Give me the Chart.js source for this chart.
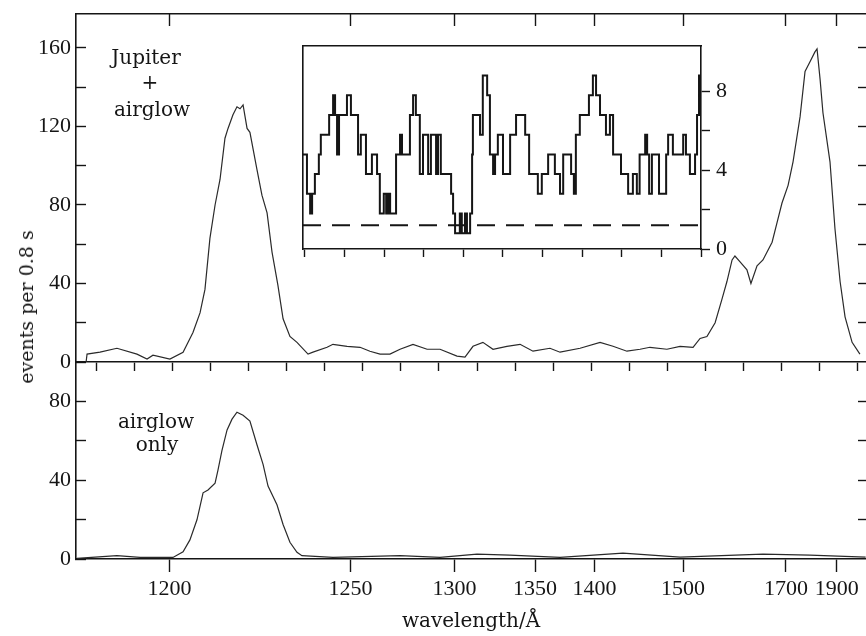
<!DOCTYPE html>
<html>
<head>
<meta charset="utf-8">
<script src="https://cdn.jsdelivr.net/npm/chart.js@4.4.1/dist/chart.umd.min.js"></script>
<style>
  html, body { margin: 0; padding: 0; background: #fff; }
  #wrap { position: relative; width: 866px; height: 636px; overflow: hidden; background: #fff; }
  canvas { position: absolute; }
  .note { position: absolute; font-family: 'DejaVu Serif', serif; font-size: 20px; color: #151515; transform: translate(-50%, -50%); white-space: nowrap; }
  #ytitle { position: absolute; left: 26px; top: 307px; transform: translate(-50%, -50%) rotate(-90deg); font-family: 'DejaVu Serif', serif; font-size: 19px; color: #151515; white-space: nowrap; }
</style>
</head>
<body>
<div id="wrap">
  <canvas id="top-panel" width="866" height="376" style="left:0;top:0"></canvas>
  <canvas id="bottom-panel" width="866" height="274" style="left:0;top:362px"></canvas>
  <canvas id="inset" width="460" height="232" style="left:293px;top:36px"></canvas>
  <div class="note" style="left:146px;top:57px">Jupiter</div>
  <div class="note" style="left:150px;top:82px">+</div>
  <div class="note" style="left:152px;top:109px">airglow</div>
  <div class="note" style="left:156px;top:421px">airglow</div>
  <div class="note" style="left:157px;top:444px">only</div>
  <div id="ytitle">events per 0.8 s</div>
</div>
<script>
// detector channel axis; wavelength labels sit at fixed channels (non-linear dispersion)
const X_MIN = -10.5;
const X_MAX = 404.2;
const CHANNEL_TICKS = [0, 20, 40, 60, 80, 100, 120, 140, 160, 180, 200, 220, 240, 260, 280, 300, 320, 340, 360, 380, 400];
const WAVE_LABELS = ['1200', '1250', '1300', '1350', '1400', '1500', '1700', '1900'];
const WAVE_CHANNELS = [38.6, 133.6, 188.2, 230.5, 261.7, 308.2, 362.2, 388.8];

// Jupiter + airglow
const TOP_CHANNEL = [-5.2, -4.7, 2.1, 11.0, 21.5, 26.8, 29.9, 38.8, 45.7, 50.9, 54.6, 57.2, 59.8, 62.5, 65.1, 67.7,
  69.3, 71.9, 74.0, 75.6, 77.2, 79.3, 80.8, 84.5, 87.1, 89.8, 92.4, 95.5, 98.2, 101.8, 105.5, 111.3, 113.9, 121.3,
  124.4, 131.8, 138.6, 143.8, 149.1, 154.3, 159.6, 166.4, 173.8, 180.6, 189.5, 193.7, 197.9, 203.1, 208.4, 215.7,
  222.6, 229.4, 238.3, 243.6, 254.1, 264.6, 271.4, 278.7, 285.6, 290.8, 299.7, 306.6, 313.4, 317.1, 320.7, 325.0,
  328.6, 331.2, 333.9, 335.4, 338.1, 341.7, 343.8, 347.0, 350.1, 354.9, 357.5, 360.1, 363.3, 365.9, 369.6, 372.2,
  374.8, 377.4, 378.5, 380.1, 381.6, 385.3, 387.9, 390.6, 393.2, 396.9, 401];
const TOP_COUNTS = [0, 4, 5, 7, 4, 1.5, 3.5, 1.5, 5, 15, 25, 37, 63, 80, 93, 114,
  119, 126, 130, 129, 131, 119, 117, 98, 85, 76, 56, 39, 22, 13, 10, 4, 5, 7.5,
  9, 8, 7.5, 5.5, 4, 4, 6.5, 9, 6.5, 6.5, 3, 2.5, 8, 10, 6.5, 8,
  9, 5.5, 7, 5, 7, 10, 8, 5.5, 6.5, 7.5, 6.5, 8, 7.5, 12, 13, 20,
  32, 41, 52, 54, 51, 47, 40, 49, 52, 61, 71, 81, 90, 102, 125, 148,
  153, 158, 159.5, 144, 127, 102, 68, 41, 23, 10, 4];

// airglow only
const BOT_CHANNEL = [-10, 11, 23.1, 40.4, 45.7, 49.3, 53.0, 56.2, 58.8, 62.5, 64.0, 66.1, 68.8, 71.4, 74.0, 77.2,
  80.8, 84.5, 87.7, 90.3, 95.0, 98.2, 101.8, 105.5, 108.1, 124.4, 159.6, 180.6, 200, 217.3, 243.6, 276.6, 306.6,
  350.1, 374.8, 404];
const BOT_COUNTS = [0.3, 1.7, 0.8, 0.8, 3.7, 9.7, 19.9, 33.6, 35, 38.5, 45, 55, 65.5, 71, 74.5, 73,
  70, 58, 48, 37, 27.5, 17.5, 8.5, 3.4, 1.7, 0.8, 1.7, 0.8, 2.5, 2, 0.8, 3, 1,
  2.5, 2, 1];

const TOP_Y_TICKS = [0, 20, 40, 60, 80, 100, 120, 140, 160];
const BOT_Y_TICKS = [0, 20, 40, 60, 80];

// inset: step counts, each value holds until the next x
const INSET_X = [-0.05, 0.05, 0.13, 0.18, 0.25, 0.35, 0.40, 0.61, 0.71, 0.76,
  0.81, 0.86, 1.06, 1.16, 1.34, 1.41, 1.54, 1.69, 1.82, 1.89,
  1.99, 2.05, 2.10, 2.15, 2.30, 2.40, 2.45, 2.65, 2.73, 2.80,
  2.90, 2.98, 3.11, 3.18, 3.31, 3.36, 3.43, 3.69, 3.74, 3.79,
  3.91, 3.96, 4.04, 4.09, 4.17, 4.22, 4.24, 4.42, 4.49, 4.60,
  4.67, 4.75, 4.80, 4.87, 5.00, 5.18, 5.33, 5.56, 5.66, 5.88,
  5.98, 6.14, 6.31, 6.44, 6.52, 6.72, 6.79, 6.84, 6.94, 7.17,
  7.27, 7.35, 7.45, 7.60, 7.70, 7.78, 7.98, 8.16, 8.28, 8.38,
  8.45, 8.59, 8.64, 8.69, 8.76, 8.94, 9.12, 9.17, 9.29, 9.55,
  9.62, 9.72, 9.85, 9.90, 9.95, 10.0];
const INSET_COUNTS = [4.8, 2.8, 1.8, 2.8, 3.8, 4.8, 5.8, 6.8, 7.8, 6.8,
  4.8, 6.8, 7.8, 6.8, 4.8, 5.8, 3.8, 4.8, 3.8, 1.8,
  2.8, 1.8, 2.8, 1.8, 4.8, 5.8, 4.8, 6.8, 7.8, 6.8,
  3.8, 5.8, 3.8, 5.8, 3.8, 5.8, 3.8, 2.8, 1.8, 0.8,
  1.8, 0.8, 1.8, 0.8, 1.8, 4.8, 6.8, 5.8, 8.8, 7.8,
  4.8, 3.8, 4.8, 5.8, 3.8, 5.8, 6.8, 5.8, 3.8, 2.8,
  3.8, 4.8, 3.8, 2.8, 4.8, 3.8, 2.8, 5.8, 6.8, 7.8,
  8.8, 7.8, 6.8, 5.8, 6.8, 4.8, 3.8, 2.8, 3.8, 2.8,
  4.8, 5.8, 4.8, 2.8, 4.8, 2.8, 4.8, 5.8, 4.8, 5.8,
  4.8, 3.8, 4.8, 6.8, 8.8, 8.8];
const INSET_LEVEL = 1.2;
const INSET_X_TICKS = [0, 1, 2, 3, 4, 5, 6, 7, 8, 9, 10];
const INSET_Y_TICKS = [0, 2, 4, 6, 8];

const INK = '#151515';
const TRACE = '#2a2a2a';

Chart.defaults.font.family = "'Liberation Serif', serif";
Chart.defaults.font.size = 22;
Chart.defaults.color = INK;

const baseOptions = {
  responsive: false,
  animation: false,
  events: [],
  layout: { padding: 0 },
  plugins: { legend: { display: false }, tooltip: { enabled: false } },
};

const useTicks = (values) => (scale) => { scale.ticks = values.map((v) => ({ value: v })); };
// pin an axis box to a fixed size and drop the label overhang padding
const boxSize = (prop, size) => (s) => {
  s[prop] = size;
  s.paddingTop = 0; s.paddingBottom = 0; s.paddingLeft = 0; s.paddingRight = 0;
};
const border = { display: true, color: INK, width: 1.6 };
const marks = (len) => ({ drawOnChartArea: false, tickLength: len, tickColor: INK, tickWidth: 1.4 });

function points(xs, ys) {
  return xs.map((x, i) => ({ x, y: ys[i] }));
}

new Chart(document.getElementById('top-panel'), {
  type: 'line',
  data: {
    datasets: [{
      data: points(TOP_CHANNEL, TOP_COUNTS),
      borderColor: TRACE,
      borderWidth: 1.2,
      pointRadius: 0,
    }]
  },
  options: {
    ...baseOptions,
    scales: {
      x: {
        type: 'linear', position: 'bottom', min: X_MIN, max: X_MAX,
        afterBuildTicks: useTicks(CHANNEL_TICKS),
        afterFit: boxSize('height', 14),
        ticks: { display: false },
        grid: marks(9),
        border,
      },
      xTop: {
        type: 'linear', position: 'top', min: X_MIN, max: X_MAX,
        afterBuildTicks: useTicks(WAVE_CHANNELS),
        afterFit: boxSize('height', 14),
        ticks: { display: false },
        grid: marks(-12),
        border,
      },
      y: {
        type: 'linear', position: 'left', min: 0, max: 177.3,
        afterBuildTicks: useTicks(TOP_Y_TICKS),
        afterFit: boxSize('width', 76),
        ticks: { padding: 15, callback: (v) => (v % 40 === 0 ? String(v) : '') },
        grid: marks(-10),
        border,
      },
      yRight: {
        type: 'linear', position: 'right', min: 0, max: 177.3,
        afterBuildTicks: useTicks(TOP_Y_TICKS.slice(1)),
        afterFit: boxSize('width', 0),
        ticks: { display: false },
        grid: marks(-8),
        border: { display: false },
      }
    }
  }
});

new Chart(document.getElementById('bottom-panel'), {
  type: 'line',
  data: {
    datasets: [{
      data: points(BOT_CHANNEL, BOT_COUNTS),
      borderColor: TRACE,
      borderWidth: 1.2,
      pointRadius: 0,
    }]
  },
  options: {
    ...baseOptions,
    scales: {
      x: {
        type: 'linear', position: 'bottom', min: X_MIN, max: X_MAX,
        afterBuildTicks: useTicks(WAVE_CHANNELS),
        afterFit: boxSize('height', 77),
        ticks: { padding: 4, autoSkip: false, maxRotation: 0, callback: (v, i) => WAVE_LABELS[i] },
        grid: marks(13),
        border,
        title: {
          display: true,
          text: 'wavelength/Å',
          font: { family: "'DejaVu Serif', serif", size: 20 },
          padding: { top: 0, bottom: 2 },
        },
      },
      y: {
        type: 'linear', position: 'left', min: 0, max: 100,
        afterBuildTicks: useTicks(BOT_Y_TICKS),
        afterFit: boxSize('width', 76),
        ticks: { padding: 15, callback: (v) => (v % 40 === 0 ? String(v) : '') },
        grid: marks(-10),
        border,
      },
      yRight: {
        type: 'linear', position: 'right', min: 0, max: 100,
        afterBuildTicks: useTicks(BOT_Y_TICKS.slice(1)),
        afterFit: boxSize('width', 0),
        ticks: { display: false },
        grid: marks(-8),
        border: { display: false },
      }
    }
  }
});

new Chart(document.getElementById('inset'), {
  type: 'line',
  data: {
    datasets: [
      {
        data: points(INSET_X, INSET_COUNTS),
        stepped: 'before',
        borderColor: INK,
        borderWidth: 2,
        pointRadius: 0,
      },
      {
        data: points([INSET_X[0], INSET_X[INSET_X.length - 1]], [INSET_LEVEL, INSET_LEVEL]),
        borderColor: INK,
        borderWidth: 2,
        borderDash: [18, 11],
        pointRadius: 0,
      }
    ]
  },
  options: {
    ...baseOptions,
    scales: {
      x: {
        type: 'linear', position: 'bottom', min: -0.05, max: 10,
        afterBuildTicks: useTicks(INSET_X_TICKS),
        afterFit: boxSize('height', 19),
        ticks: { display: false },
        grid: marks(8),
        border,
      },
      xTop: {
        type: 'linear', position: 'top', min: -0.05, max: 10,
        afterFit: boxSize('height', 10),
        ticks: { display: false },
        grid: { display: false },
        border,
      },
      yLeft: {
        type: 'linear', position: 'left', min: 0, max: 10.3,
        afterFit: boxSize('width', 10),
        ticks: { display: false },
        grid: { display: false },
        border,
      },
      y: {
        type: 'linear', position: 'right', min: 0, max: 10.3,
        afterBuildTicks: useTicks(INSET_Y_TICKS),
        afterFit: boxSize('width', 52),
        ticks: { padding: 6, callback: (v) => (v % 4 === 0 ? String(v) : '') },
        grid: marks(9),
        border,
      }
    }
  }
});
</script>
</body>
</html>
